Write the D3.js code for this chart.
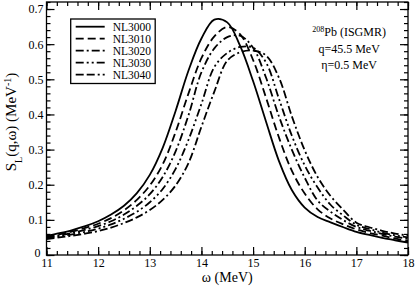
<!DOCTYPE html>
<html>
<head>
<meta charset="utf-8">
<script src="https://cdn.jsdelivr.net/npm/d3@7"></script>
<style>
  body { margin: 0; background: #fff; }
  svg text { font-family: "Liberation Serif", "DejaVu Serif", serif; }
</style>
</head>
<body>
<div id="chart"></div>
<script>
// energy grid (MeV)
const omega = [11, 11.25, 11.5, 11.75, 12, 12.25, 12.5, 12.75, 13, 13.25, 13.5, 13.75, 14, 14.25,
               14.5, 14.75, 15, 15.25, 15.5, 15.75, 16, 16.25, 16.5, 16.75, 17, 17.25, 17.5, 17.75, 18];

const nl3000 = [0.054, 0.062, 0.071, 0.082, 0.096, 0.115, 0.140, 0.176, 0.228, 0.305, 0.410, 0.525, 0.616, 0.670,
                0.662, 0.595, 0.495, 0.380, 0.268, 0.185, 0.135, 0.108, 0.093, 0.079, 0.066, 0.057, 0.049, 0.042, 0.035];
const nl3010 = [0.052, 0.059, 0.067, 0.077, 0.089, 0.105, 0.127, 0.157, 0.198, 0.258, 0.350, 0.460, 0.560, 0.622,
                0.649, 0.628, 0.555, 0.448, 0.335, 0.240, 0.175, 0.130, 0.104, 0.087, 0.073, 0.063, 0.055, 0.047, 0.040];
const nl3020 = [0.050, 0.056, 0.063, 0.072, 0.082, 0.096, 0.115, 0.140, 0.173, 0.222, 0.295, 0.398, 0.520, 0.588,
                0.620, 0.624, 0.590, 0.505, 0.395, 0.300, 0.220, 0.155, 0.123, 0.099, 0.080, 0.069, 0.060, 0.052, 0.046];
const nl3030 = [0.048, 0.053, 0.059, 0.066, 0.075, 0.087, 0.103, 0.123, 0.150, 0.188, 0.245, 0.328, 0.430, 0.535,
                0.575, 0.592, 0.590, 0.548, 0.445, 0.340, 0.255, 0.192, 0.143, 0.112, 0.086, 0.074, 0.064, 0.056, 0.050];
const nl3040 = [0.045, 0.050, 0.055, 0.061, 0.068, 0.078, 0.091, 0.107, 0.128, 0.157, 0.198, 0.262, 0.365, 0.465,
                0.553, 0.577, 0.582, 0.568, 0.505, 0.395, 0.298, 0.222, 0.168, 0.128, 0.092, 0.079, 0.069, 0.061, 0.055];

const seriesNames = ["NL3000", "NL3010", "NL3020", "NL3030", "NL3040"];
const seriesValues = [nl3000, nl3010, nl3020, nl3030, nl3040];
const dashes = [null, "8,4", "8,3,2,3", "8,3,2,3,2,3", "8,3,8,3,2,3"];

const xTicks = [11, 12, 13, 14, 15, 16, 17, 18];
const yTicks = [0, 0.1, 0.2, 0.3, 0.4, 0.5, 0.6, 0.7];

const serif = "'Liberation Serif', 'DejaVu Serif', serif";

const margin = { top: 2, right: 7, bottom: 31, left: 46.5 },
      width = 415 - margin.left - margin.right,
      height = 286 - margin.top - margin.bottom;

const svg = d3.select("#chart")
    .append("svg")
    .attr("width", 415)
    .attr("height", 286)
    .attr("font-family", serif)
  .append("g")
    .attr("transform", `translate(${margin.left},${margin.top})`);

const x = d3.scaleLinear().domain([11, 18]).range([0, width]);
const y = d3.scaleLinear().domain([0, 0.72]).range([height, 0]);

const xMinor = d3.range(11, 18.001, 0.2).map(v => +v.toFixed(1));
const yMinor = d3.range(0, 0.7201, 0.02).map(v => +v.toFixed(2));

// minor ticks on all four sides
svg.append("g").attr("transform", `translate(0,${height})`)
    .call(d3.axisBottom(x).tickValues(xMinor).tickSize(-4).tickFormat(""));
svg.append("g")
    .call(d3.axisTop(x).tickValues(xMinor).tickSize(-4).tickFormat(""));
svg.append("g")
    .call(d3.axisLeft(y).tickValues(yMinor).tickSize(-4).tickFormat(""));
svg.append("g").attr("transform", `translate(${width},0)`)
    .call(d3.axisRight(y).tickValues(yMinor).tickSize(-4).tickFormat(""));

// major ticks
const xAxis = svg.append("g").attr("transform", `translate(0,${height})`)
    .call(d3.axisBottom(x).tickValues(xTicks).tickSizeInner(-8).tickSizeOuter(0).tickPadding(3).tickFormat(d3.format("d")));
svg.append("g")
    .call(d3.axisTop(x).tickValues(xTicks).tickSizeInner(-8).tickSizeOuter(0).tickFormat(""));
const yAxis = svg.append("g")
    .call(d3.axisLeft(y).tickValues(yTicks).tickSizeInner(-8).tickSizeOuter(0).tickPadding(3)
        .tickFormat(d => d === 0 ? "0" : d.toFixed(1)));
svg.append("g").attr("transform", `translate(${width},0)`)
    .call(d3.axisRight(y).tickValues(yTicks).tickSizeInner(-8).tickSizeOuter(0).tickFormat(""));

svg.selectAll(".domain").remove();
svg.selectAll("g").attr("font-family", serif);
svg.selectAll(".tick line").attr("stroke", "#000").attr("stroke-width", 1.2);
svg.selectAll(".tick text")
    .attr("fill", "#000")
    .attr("font-size", 12);
xAxis.selectAll(".tick text").attr("dy", "0.78em");
// the "0" label sits a little higher and left, clear of "11"
yAxis.selectAll(".tick text").filter(d => d === 0).attr("dy", "0.1em").attr("x", -6);

// frame
svg.append("rect")
    .attr("width", width)
    .attr("height", height)
    .attr("fill", "none")
    .attr("stroke", "#000")
    .attr("stroke-width", 1.3);

const line = d3.line()
    .x(d => x(d[0]))
    .y(d => y(d[1]))
    .curve(d3.curveCatmullRom.alpha(0.5));

seriesValues.forEach((vals, i) => {
    svg.append("path")
        .datum(omega.map((w, j) => [w, vals[j]]))
        .attr("fill", "none")
        .attr("stroke", "#000")
        .attr("stroke-width", 1.8)
        .attr("stroke-dasharray", dashes[i])
        .attr("d", line);
});

// legend
const legend = svg.append("g").attr("transform", "translate(24.2,17)");
legend.append("rect")
    .attr("width", 84.5)
    .attr("height", 64.5)
    .attr("fill", "#fff")
    .attr("stroke", "#000")
    .attr("stroke-width", 1.3);
seriesNames.forEach((name, i) => {
    const ly = 7.7 + i * 12;
    legend.append("line")
        .attr("x1", 5).attr("x2", 34)
        .attr("y1", ly).attr("y2", ly)
        .attr("stroke", "#000")
        .attr("stroke-width", 1.8)
        .attr("stroke-dasharray", dashes[i]);
    legend.append("text")
        .attr("x", 42)
        .attr("y", ly + 4)
        .attr("font-size", 11.5)
        .text(name);
});

// annotation
const note = svg.append("text")
    .attr("text-anchor", "middle")
    .attr("font-size", 12);
const t1 = note.append("tspan").attr("x", x(16.86)).attr("y", 34);
t1.append("tspan").attr("baseline-shift", "super").attr("font-size", 8).text("208");
t1.append("tspan").text("Pb (ISGMR)");
note.append("tspan").attr("x", x(16.86)).attr("y", 51).text("q=45.5 MeV");
note.append("tspan").attr("x", x(16.86)).attr("y", 67).text("\u03b7=0.5 MeV");

// X axis label
svg.append("text")
    .attr("text-anchor", "middle")
    .attr("x", x(14.5))
    .attr("y", height + 27)
    .attr("font-size", 14)
    .text("\u03c9 (MeV)");

// Y axis label
const yl = svg.append("text")
    .attr("text-anchor", "middle")
    .attr("transform", "rotate(-90)")
    .attr("x", -(122 - margin.top))
    .attr("y", -margin.left + 16)
    .attr("font-size", 15);
yl.append("tspan").text("S");
yl.append("tspan").attr("baseline-shift", "sub").attr("font-size", 10).text("L");
yl.append("tspan").text("(q,\u03c9) (MeV");
yl.append("tspan").attr("baseline-shift", "super").attr("font-size", 10).text("-1");
yl.append("tspan").text(")");
</script>
</body>
</html>
